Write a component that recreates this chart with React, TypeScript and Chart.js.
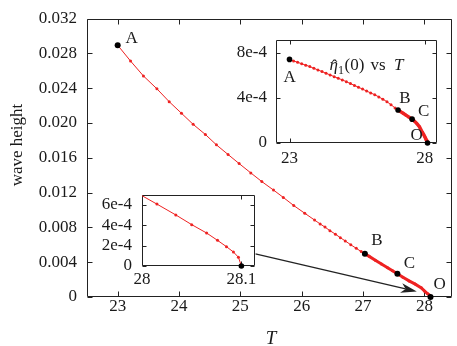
import React, { useEffect, useRef } from 'react';
import { Chart, registerables } from 'chart.js';

Chart.register(...registerables);

// ---------------- data ----------------
// main plot: wave height vs T
const MAIN_T = [23.0, 23.21, 23.42, 23.64, 23.84, 24.04, 24.23, 24.43, 24.61, 24.8, 24.98, 25.17, 25.35, 25.54, 25.7, 25.87, 26.05, 26.21, 26.3, 26.38, 26.46, 26.55, 26.63, 26.71, 26.8, 26.89, 26.97, 27.03, 27.1, 27.2, 27.3, 27.4, 27.48, 27.56, 27.65, 27.75, 27.85, 27.95, 28.0, 28.05, 28.08, 28.1];
const MAIN_H = [0.02893, 0.02711, 0.0254, 0.02392, 0.02244, 0.02111, 0.01984, 0.01867, 0.01748, 0.01637, 0.01533, 0.01426, 0.01326, 0.01229, 0.01144, 0.01051, 0.00962, 0.00884, 0.0084, 0.00803, 0.00762, 0.00722, 0.00681, 0.00644, 0.006, 0.00559, 0.00522, 0.00498, 0.00467, 0.00423, 0.0038, 0.00336, 0.00301, 0.00267, 0.00228, 0.00185, 0.00148, 0.00105, 0.0007, 0.0004, 0.00022, 0];
const MAIN_KEY_NAMES = ['A', 'B', 'C', 'O'];
const MAIN_KEY_T = [23.0, 27.03, 27.56, 28.1];
const MAIN_KEY_H = [0.02893, 0.00498, 0.00267, 0];
const MAIN_X_TICKS = [23, 24, 25, 26, 27, 28];
const MAIN_Y_TICKS = [0, 0.004, 0.008, 0.012, 0.016, 0.02, 0.024, 0.028, 0.032];
const MAIN_X_TITLE = 'T';
const MAIN_Y_TITLE = 'wave height';

// inset 1: eta_1(0) vs T
const INS1_T = [23.0, 23.15, 23.3, 23.45, 23.6, 23.75, 23.9, 24.05, 24.2, 24.35, 24.5, 24.65, 24.8, 24.95, 25.1, 25.25, 25.4, 25.55, 25.7, 25.85, 26.0, 26.15, 26.3, 26.45, 26.6, 26.75, 26.9, 27.01, 27.1, 27.2, 27.3, 27.4, 27.53, 27.6, 27.7, 27.8, 27.9, 27.95, 28.0, 28.05, 28.08, 28.1];
const INS1_V = [7.43e-4, 7.3e-4, 7.17e-4, 7.04e-4, 6.92e-4, 6.79e-4, 6.64e-4, 6.49e-4, 6.35e-4, 6.2e-4, 6.05e-4, 5.9e-4, 5.75e-4, 5.61e-4, 5.45e-4, 5.28e-4, 5.12e-4, 4.95e-4, 4.79e-4, 4.62e-4, 4.45e-4, 4.29e-4, 4.1e-4, 3.89e-4, 3.67e-4, 3.4e-4, 3.12e-4, 2.93e-4, 2.79e-4, 2.64e-4, 2.48e-4, 2.32e-4, 2.12e-4, 1.98e-4, 1.75e-4, 1.45e-4, 0.98e-4, 0.78e-4, 0.55e-4, 0.3e-4, 0.15e-4, 0];
const INS1_KEY_NAMES = ['A', 'B', 'C', 'O'];
const INS1_KEY_T = [23.0, 27.01, 27.53, 28.1];
const INS1_KEY_V = [7.43e-4, 2.93e-4, 2.12e-4, 0];
const INS1_X_TICKS = [23, 28];
const INS1_Y_TICKS = [0, 4e-4, 8e-4];

// inset 2: zoom of wave height near T = 28.1
const INS2_T = [27.997, 28.015, 28.034, 28.05, 28.065, 28.076, 28.085, 28.092, 28.097, 28.1];
const INS2_V = [7.05e-4, 6.06e-4, 5.0e-4, 4.05e-4, 3.23e-4, 2.51e-4, 1.89e-4, 1.37e-4, 0.86e-4, 0];
const INS2_KEY_T = [28.1];
const INS2_KEY_V = [0];
const INS2_X_TICKS = [28, 28.1];
const INS2_Y_TICKS = [0, 2e-4, 4e-4, 6e-4];

// arrow (main plot data coordinates)
const ARROW_FROM = [25.245, 0.00496];
const ARROW_TO = [27.876, 0.00062];

// ---------------- styles ----------------
const FONT = '"Liberation Serif", "Times New Roman", Times, serif';
const INK = '#1a1a1a';
const RED = '#ee2222';

function framePlugin(tickLen: number) {
  return {
    id: 'frame',
    beforeDraw(chart: any) {
      const { ctx, chartArea: a } = chart;
      ctx.save();
      ctx.fillStyle = '#fff';
      ctx.fillRect(a.left, a.top, a.right - a.left, a.bottom - a.top);
      ctx.restore();
    },
    beforeDatasetsDraw(chart: any) {
      const { ctx, chartArea: a, scales } = chart;
      const L = Math.round(a.left) + 0.5;
      const R = Math.round(a.right) - 0.5;
      const T = Math.round(a.top) + 0.5;
      const B = Math.round(a.bottom) - 0.5;
      ctx.save();
      ctx.strokeStyle = '#222';
      ctx.lineWidth = 1;
      ctx.beginPath();
      ctx.rect(L, T, R - L, B - T);
      for (const t of scales.x.ticks) {
        const px = Math.round(scales.x.getPixelForValue(t.value)) + 0.5;
        ctx.moveTo(px, B);
        ctx.lineTo(px, B - tickLen);
        ctx.moveTo(px, T);
        ctx.lineTo(px, T + tickLen);
      }
      for (const t of scales.y.ticks) {
        const py = Math.round(scales.y.getPixelForValue(t.value)) + 0.5;
        ctx.moveTo(L, py);
        ctx.lineTo(L + tickLen, py);
        ctx.moveTo(R, py);
        ctx.lineTo(R - tickLen, py);
      }
      ctx.stroke();
      ctx.restore();
    },
  };
}

function keyLabelsPlugin(names: string[], ts: number[], vs: number[], offsets: number[][]) {
  return {
    id: 'keyLabels',
    afterDatasetsDraw(chart: any) {
      const { ctx, scales } = chart;
      ctx.save();
      ctx.fillStyle = INK;
      ctx.font = `17px ${FONT}`;
      ctx.textAlign = 'center';
      ctx.textBaseline = 'middle';
      names.forEach((n, i) => {
        const px = scales.x.getPixelForValue(ts[i]);
        const py = scales.y.getPixelForValue(vs[i]);
        ctx.fillText(n, px + offsets[i][0], py + offsets[i][1]);
      });
      ctx.restore();
    },
  };
}

const mainDecorPlugin = {
  id: 'mainDecor',
  afterDatasetsDraw(chart: any) {
    const { ctx, scales, chartArea: a } = chart;
    // arrow
    const x0 = scales.x.getPixelForValue(ARROW_FROM[0]);
    const y0 = scales.y.getPixelForValue(ARROW_FROM[1]);
    const x1 = scales.x.getPixelForValue(ARROW_TO[0]);
    const y1 = scales.y.getPixelForValue(ARROW_TO[1]);
    const ang = Math.atan2(y1 - y0, x1 - x0);
    const ux = Math.cos(ang), uy = Math.sin(ang);
    const nx = -uy, ny = ux;
    const Lh = 16, W = 4.8, notch = 4.5;
    ctx.save();
    ctx.strokeStyle = '#222';
    ctx.fillStyle = '#222';
    ctx.lineWidth = 1.3;
    ctx.beginPath();
    ctx.moveTo(x0, y0);
    ctx.lineTo(x1 - (Lh - notch) * ux, y1 - (Lh - notch) * uy);
    ctx.stroke();
    ctx.beginPath();
    ctx.moveTo(x1, y1);
    ctx.lineTo(x1 - Lh * ux + W * nx, y1 - Lh * uy + W * ny);
    ctx.lineTo(x1 - (Lh - notch) * ux, y1 - (Lh - notch) * uy);
    ctx.lineTo(x1 - Lh * ux - W * nx, y1 - Lh * uy - W * ny);
    ctx.closePath();
    ctx.fill();
    // axis titles
    ctx.fillStyle = INK;
    ctx.font = `italic 19px ${FONT}`;
    ctx.textAlign = 'center';
    ctx.textBaseline = 'alphabetic';
    ctx.fillText(MAIN_X_TITLE, (a.left + a.right) / 2 + 1.5, 344);
    ctx.translate(21.5, 145);
    ctx.rotate(-Math.PI / 2);
    ctx.font = `17px ${FONT}`;
    ctx.fillText(MAIN_Y_TITLE, 0, 0);
    ctx.restore();
  },
};

const inset1TitlePlugin = {
  id: 'ins1Title',
  afterDatasetsDraw(chart: any) {
    const { ctx, chartArea: a } = chart;
    const bx = a.left;
    const by = a.top + 30;
    ctx.save();
    ctx.fillStyle = INK;
    ctx.textAlign = 'left';
    ctx.textBaseline = 'alphabetic';
    ctx.font = `italic 17px ${FONT}`;
    ctx.fillText('\u03b7', bx + 53.5, by);
    ctx.font = `17px ${FONT}`;
    ctx.textAlign = 'center';
    ctx.fillText('\u02c6', bx + 58.5, by + 1);
    ctx.textAlign = 'left';
    ctx.font = `12px ${FONT}`;
    ctx.fillText('1', bx + 62, by + 4);
    ctx.font = `17px ${FONT}`;
    ctx.fillText('(0)', bx + 68.5, by);
    ctx.fillText('vs', bx + 94.5, by);
    ctx.font = `italic 17px ${FONT}`;
    ctx.fillText('T', bx + 118, by);
    ctx.restore();
  },
};

type Cfg = {
  xMin: number; xMax: number; yMin: number; yMax: number;
  xTicks: number[]; yTicks: number[];
  xFmt: (v: number) => string; yFmt: (v: number) => string;
  yAxisWidth: number; xAxisHeight: number;
  padding: { top: number; right: number; left: number; bottom: number };
  xPad: number; yPad: number;
  lineT: number[]; lineV: number[];
  thickFrom: number; thickWidth: number;
  keyT: number[]; keyV: number[]; keyR: number;
  plugins: any[];
};

function buildConfig(c: Cfg): any {
  const tickFont = { family: FONT, size: 17, lineHeight: 1 };
  return {
    type: 'scatter',
    data: {
      datasets: [
        {
          data: c.keyT.map((t, i) => ({ x: t, y: c.keyV[i] })),
          showLine: false,
          pointRadius: c.keyR,
          pointBackgroundColor: '#000',
          pointBorderColor: '#000',
          pointBorderWidth: 0,
          clip: false,
        },
        {
          data: c.lineT.map((t, i) => ({ x: t, y: c.lineV[i] })),
          showLine: true,
          borderColor: RED,
          borderWidth: 1,
          tension: 0,
          pointRadius: 1.5,
          pointBackgroundColor: RED,
          pointBorderWidth: 0,
          segment: {
            borderWidth: (s: any) => (c.lineT[s.p0DataIndex] >= c.thickFrom - 1e-9 ? c.thickWidth : undefined),
          },
        },
      ],
    },
    options: {
      animation: false,
      responsive: false,
      events: [],
      layout: { padding: c.padding },
      plugins: { legend: { display: false }, tooltip: { enabled: false } },
      scales: {
        x: {
          type: 'linear',
          min: c.xMin,
          max: c.xMax,
          afterBuildTicks: (s: any) => { s.ticks = c.xTicks.map((v) => ({ value: v })); },
          afterFit: (s: any) => { s.height = c.xAxisHeight; },
          grid: { display: false, drawTicks: false },
          border: { display: false },
          ticks: {
            color: INK, font: tickFont, padding: c.xPad, maxRotation: 0, minRotation: 0, autoSkip: false,
            callback: (v: number) => c.xFmt(v),
          },
        },
        y: {
          type: 'linear',
          min: c.yMin,
          max: c.yMax,
          afterBuildTicks: (s: any) => { s.ticks = c.yTicks.map((v) => ({ value: v })); },
          afterFit: (s: any) => { s.width = c.yAxisWidth; },
          grid: { display: false, drawTicks: false },
          border: { display: false },
          ticks: {
            color: INK, font: tickFont, padding: c.yPad, autoSkip: false,
            callback: (v: number) => c.yFmt(v),
          },
        },
      },
    },
    plugins: c.plugins,
  };
}

const fmtE4 = (v: number) => (Math.abs(v) < 1e-12 ? '0' : `${Math.round(v * 1e4)}e-4`);

export default function App() {
  const mainRef = useRef<HTMLCanvasElement>(null);
  const in1Ref = useRef<HTMLCanvasElement>(null);
  const in2Ref = useRef<HTMLCanvasElement>(null);

  useEffect(() => {
    document.body.style.margin = '0';
    const main = new Chart(mainRef.current as HTMLCanvasElement, buildConfig({
      xMin: 22.5, xMax: 28.45, yMin: 0, yMax: 0.032,
      xTicks: MAIN_X_TICKS, yTicks: MAIN_Y_TICKS,
      xFmt: (v) => String(v),
      yFmt: (v) => (Math.abs(v) < 1e-12 ? '0' : v.toFixed(3)),
      yAxisWidth: 87, xAxisHeight: 49,
      padding: { top: 9, right: 5, left: 0, bottom: 0 },
      xPad: 1, yPad: 10,
      lineT: MAIN_T, lineV: MAIN_H, thickFrom: 27.03, thickWidth: 3,
      keyT: MAIN_KEY_T, keyV: MAIN_KEY_H, keyR: 3,
      plugins: [
        framePlugin(5),
        keyLabelsPlugin(MAIN_KEY_NAMES, MAIN_KEY_T, MAIN_KEY_H, [[14, -7], [12, -13], [12, -10], [9, -12]]),
        mainDecorPlugin,
      ],
    }));
    const ins1 = new Chart(in1Ref.current as HTMLCanvasElement, buildConfig({
      xMin: 22.5, xMax: 28.45, yMin: 0, yMax: 9.2e-4,
      xTicks: INS1_X_TICKS, yTicks: INS1_Y_TICKS,
      xFmt: (v) => String(v), yFmt: fmtE4,
      yAxisWidth: 50, xAxisHeight: 32,
      padding: { top: 8, right: 9, left: 0, bottom: 0 },
      xPad: 7, yPad: 9,
      lineT: INS1_T, lineV: INS1_V, thickFrom: 27.01, thickWidth: 3.5,
      keyT: INS1_KEY_T, keyV: INS1_KEY_V, keyR: 2.8,
      plugins: [
        framePlugin(4),
        keyLabelsPlugin(INS1_KEY_NAMES, INS1_KEY_T, INS1_KEY_V, [[0, 18], [7, -12], [11.5, -7.5], [-11, -7.5]]),
        inset1TitlePlugin,
      ],
    }));
    const ins2 = new Chart(in2Ref.current as HTMLCanvasElement, buildConfig({
      xMin: 28.0, xMax: 28.114, yMin: 0, yMax: 7e-4,
      xTicks: INS2_X_TICKS, yTicks: INS2_Y_TICKS,
      xFmt: (v) => String(v), yFmt: fmtE4,
      yAxisWidth: 50, xAxisHeight: 28,
      padding: { top: 8, right: 6, left: 0, bottom: 0 },
      xPad: 5, yPad: 10,
      lineT: INS2_T, lineV: INS2_V, thickFrom: 99, thickWidth: 1,
      keyT: INS2_KEY_T, keyV: INS2_KEY_V, keyR: 2.8,
      plugins: [framePlugin(4)],
    }));
    return () => {
      main.destroy();
      ins1.destroy();
      ins2.destroy();
    };
  }, []);

  return (
    <div style={{ position: 'relative', width: 457, height: 346, overflow: 'hidden', background: '#fff' }}>
      <canvas ref={mainRef} width={457} height={346} style={{ position: 'absolute', left: 0, top: 0, width: 457, height: 346 }} />
      <canvas ref={in1Ref} width={220} height={153} style={{ position: 'absolute', left: 226, top: 22, width: 220, height: 153 }} />
      <canvas ref={in2Ref} width={170} height={118} style={{ position: 'absolute', left: 92, top: 176, width: 170, height: 118 }} />
    </div>
  );
}
